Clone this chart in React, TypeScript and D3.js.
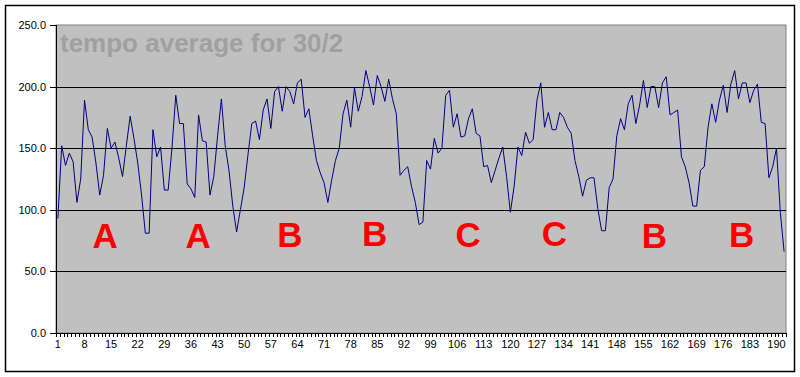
import React from "react";
import * as d3 from "d3";

const title = "tempo average for 30/2";

const tempo: number[] = [
  93, 152, 136, 146, 139, 106, 125, 189, 165, 159,
  138, 112, 128, 166, 150, 155, 142, 127, 152, 176,
  158, 138, 112, 81, 81, 165, 143, 151, 116, 116,
  150, 193, 170, 170, 121, 117, 110, 177, 156, 155,
  112, 127, 160, 190, 152, 132, 103, 82, 100, 118,
  145, 170, 172, 157, 181, 190, 166, 196, 200, 180,
  200, 196, 186, 203, 206, 175, 182, 160, 140, 130,
  122, 106, 124, 140, 150, 178, 189, 167, 199, 180,
  192, 213, 200, 185, 209, 200, 188, 206, 190, 178,
  128, 132, 135, 119, 106, 88, 90, 140, 133, 158,
  146, 150, 193, 197, 167, 178, 159, 160, 174, 182,
  162, 160, 135, 136, 122, 132, 142, 151, 127, 98,
  119, 151, 144, 163, 154, 157, 189, 203, 167, 179,
  165, 165, 179, 175, 167, 162, 140, 127, 111, 124,
  126, 126, 101, 83, 83, 118, 125, 160, 174, 165,
  186, 193, 170, 185, 205, 183, 200, 200, 183, 203,
  208, 177, 179, 181, 143, 135, 122, 103, 103, 132,
  135, 167, 186, 171, 189, 201, 179, 202, 213, 190,
  203, 203, 187, 197, 202, 171, 170, 126, 135, 150,
  98, 66,
];

const categories: number[] = tempo.map((_, i) => i + 1);
const xTickLabels: number[] = categories.filter((c) => (c - 1) % 7 === 0);
const yTicks: number[] = [0, 50, 100, 150, 200, 250];
const sectionLetters: string[] = ["A", "A", "B", "B", "C", "C", "B", "B"];
const letterAt: number[] = [13.4, 37.9, 62, 84.3, 108.9, 131.6, 157.9, 180.8];
const letterValue: number[] = [69, 69, 70, 71, 70, 71, 69, 70];

export default function App() {
  const W = 800;
  const H = 377;
  const left = 56;
  const right = 786;
  const top = 25;
  const bottom = 333;

  const x = d3
    .scaleBand<number>()
    .domain(categories)
    .range([left, right])
    .paddingInner(0)
    .paddingOuter(0);
  const step = x.step();
  const cx = (c: number) => (x(c) as number) + step / 2;
  const xPos = d3
    .scaleLinear()
    .domain([1, categories.length])
    .range([cx(1), cx(categories.length)]);
  const y = d3.scaleLinear().domain([0, 250]).range([bottom, top]);

  const line = d3
    .line<number>()
    .x((_, i) => cx(categories[i]))
    .y((d) => y(d));

  const fmt = d3.format(".1f");

  return (
    <svg
      width={W}
      height={H}
      style={{ position: "absolute", left: 0, top: 0, display: "block" }}
      fontFamily="'Liberation Sans', Arial, sans-serif"
    >
      <rect x={0} y={0} width={W} height={H} fill="#ffffff" />
      <rect x={5.5} y={5.5} width={789} height={366} fill="#ffffff" stroke="#000" strokeWidth={1.5} />
      <rect x={left} y={top} width={right - left} height={bottom - top} fill="#C0C0C0" stroke="#808080" strokeWidth={1} />
      <text x={60} y={52} fontSize={26} fontWeight="bold" fill="#A0A0A0">
        {title}
      </text>
      {yTicks
        .filter((t) => t > 0 && t < 250)
        .map((t) => (
          <line key={"g" + t} x1={left} x2={right} y1={Math.round(y(t)) + 0.5} y2={Math.round(y(t)) + 0.5} stroke="#000" strokeWidth={1} />
        ))}
      {sectionLetters.map((s, k) => (
        <text
          key={"s" + k}
          x={xPos(letterAt[k])}
          y={y(letterValue[k])}
          fontSize={35}
          fontWeight="bold"
          fill="#FF0000"
          textAnchor="middle"
        >
          {s}
        </text>
      ))}
      <path d={line(tempo) || ""} fill="none" stroke="#000080" strokeWidth={1} />
      <line x1={left + 0.5} x2={left + 0.5} y1={top} y2={bottom} stroke="#000" />
      <line x1={left} x2={right} y1={bottom + 0.5} y2={bottom + 0.5} stroke="#000" />
      {yTicks.map((t) => (
        <g key={"y" + t}>
          <line x1={left - 6} x2={left} y1={Math.round(y(t)) + 0.5} y2={Math.round(y(t)) + 0.5} stroke="#000" />
          <text x={46} y={y(t) + 4} fontSize={11} textAnchor="end" fill="#000">
            {fmt(t)}
          </text>
        </g>
      ))}
      {d3.range(categories.length + 1).map((k) => {
        const xx = Math.round(left + k * step) + 0.5;
        return <line key={"t" + k} x1={xx} x2={xx} y1={bottom} y2={bottom + 4} stroke="#000" />;
      })}
      {xTickLabels.map((c) => (
        <text key={"x" + c} x={cx(c)} y={348} fontSize={11} textAnchor="middle" fill="#000">
          {c}
        </text>
      ))}
    </svg>
  );
}
